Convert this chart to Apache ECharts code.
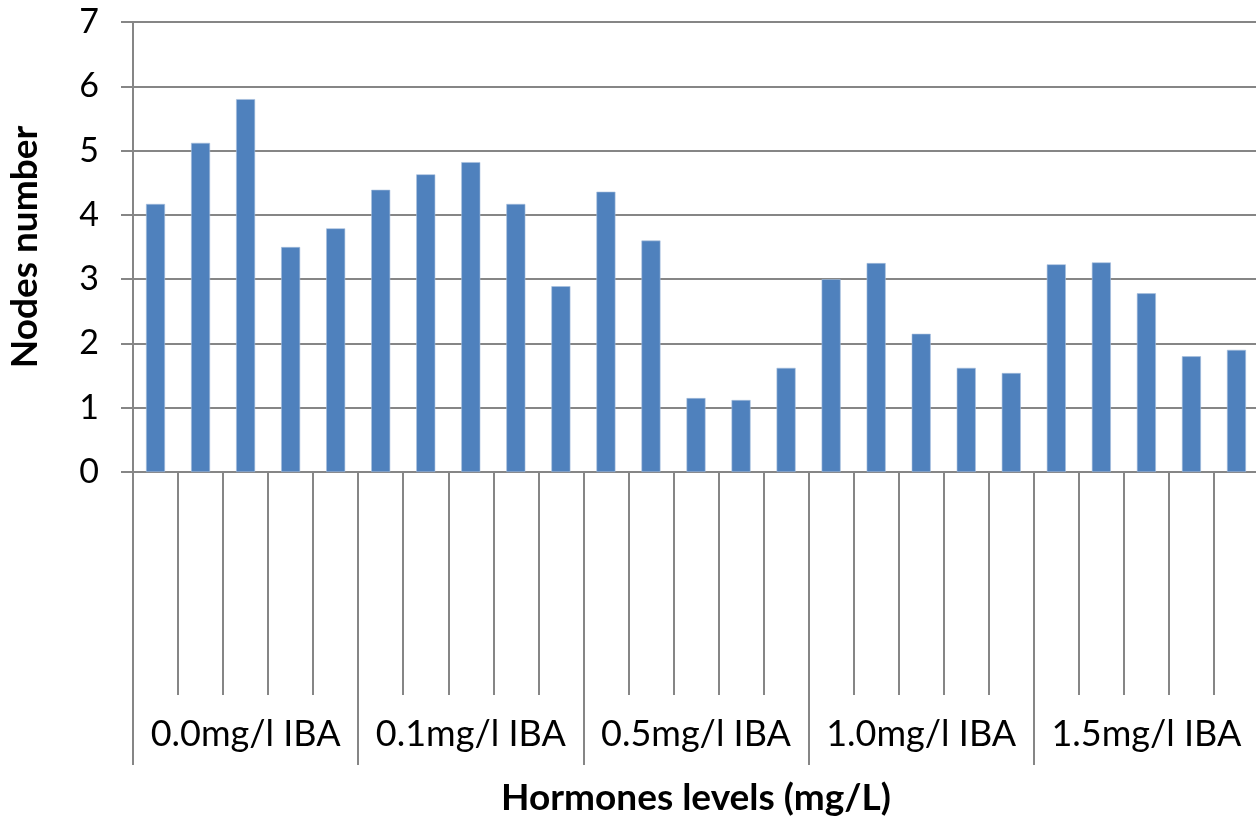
<!DOCTYPE html>
<html>
<head>
<meta charset="utf-8">
<script src="https://cdn.jsdelivr.net/npm/echarts@6/dist/echarts.min.js"></script>
<style>
html,body{margin:0;padding:0;background:#fff;}
#chart{width:1256px;height:820px;}
</style>
</head>
<body>
<div id="chart"></div>
<script>
const groups = ['0.0mg/l IBA', '0.1mg/l IBA', '0.5mg/l IBA', '1.0mg/l IBA', '1.5mg/l IBA'];
const subCategories = ['1','2','3','4','5','6','7','8','9','10','11','12','13','14','15','16','17','18','19','20','21','22','23','24','25'];
const values = [4.17, 5.12, 5.80, 3.50, 3.79,
                4.39, 4.63, 4.82, 4.17, 2.89,
                4.36, 3.60, 1.15, 1.12, 1.62,
                3.00, 3.25, 2.15, 1.62, 1.54,
                3.23, 3.26, 2.78, 1.80, 1.90];
const yTicks = [0, 1, 2, 3, 4, 5, 6, 7];

const FONT = 'Lato';
const GRAY = '#868686';
const chart = echarts.init(document.getElementById('chart'));
chart.setOption({
  animation: false,
  backgroundColor: '#ffffff',
  grid: { left: 133, top: 22, width: 1126, height: 450, containLabel: false, outerBoundsMode: 'none' },
  xAxis: [
    {
      type: 'category',
      data: subCategories,
      position: 'bottom',
      boundaryGap: true,
      axisLine: { show: true, lineStyle: { color: GRAY, width: 2 } },
      axisTick: { show: true, interval: 0, length: 223, lineStyle: { color: GRAY, width: 2 } },
      axisLabel: { show: false }
    },
    {
      type: 'category',
      data: groups,
      position: 'bottom',
      boundaryGap: true,
      axisLine: { show: false },
      axisTick: { show: true, interval: 0, length: 293, lineStyle: { color: GRAY, width: 2 } },
      axisLabel: { show: true, interval: 0, margin: 244, color: '#000', fontFamily: FONT, fontSize: 36 },
      name: 'Hormones levels (mg/L)',
      nameLocation: 'middle',
      nameGap: 326,
      nameTextStyle: { color: '#000', fontFamily: FONT, fontSize: 37, fontWeight: 'bold', verticalAlign: 'middle' }
    }
  ],
  yAxis: {
    type: 'value',
    min: yTicks[0],
    max: yTicks[yTicks.length - 1],
    interval: 1,
    axisLine: { show: true, lineStyle: { color: GRAY, width: 2 } },
    axisTick: { show: true, length: 12, lineStyle: { color: GRAY, width: 2 } },
    splitLine: { show: true, lineStyle: { color: GRAY, width: 2 } },
    axisLabel: { color: '#000', fontFamily: FONT, fontSize: 34, margin: 34 },
    name: 'Nodes number',
    nameLocation: 'middle',
    nameGap: 108,
    nameRotate: 90,
    nameTextStyle: { color: '#000', fontFamily: FONT, fontSize: 37, fontWeight: 'bold', verticalAlign: 'middle' }
  },
  series: [{
    type: 'bar',
    xAxisIndex: 0,
    data: values,
    barWidth: 19,
    itemStyle: { color: '#4F81BD', borderColor: '#A7BFDE', borderWidth: 0.6 }
  }]
});
</script>
</body>
</html>
